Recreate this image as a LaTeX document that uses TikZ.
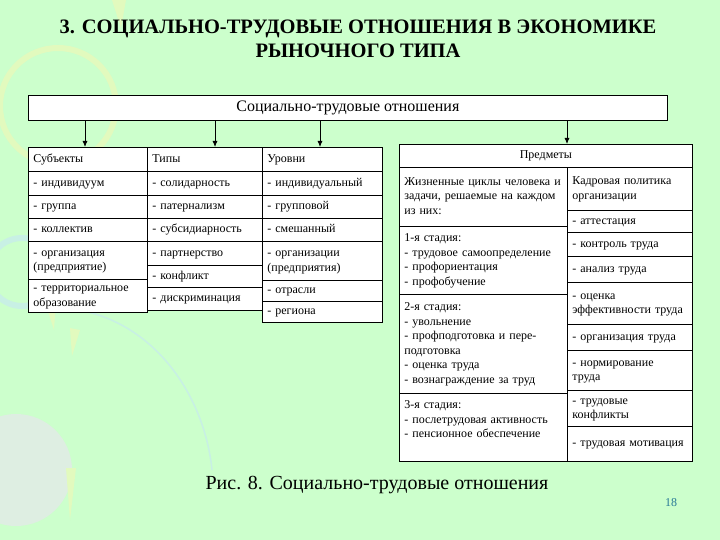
\documentclass[tikz,border=0pt]{standalone}
\usepackage{fontspec}
\setmainfont{Liberation Serif}
\usetikzlibrary{arrows.meta}
\definecolor{slidebg}{RGB}{204,255,204}
\definecolor{pagenum}{RGB}{40,120,150}
\definecolor{decoyellow}{RGB}{226,250,190}
\definecolor{decoblue}{RGB}{200,240,228}
\definecolor{decolilac}{RGB}{222,238,226}
\begin{document}
\begin{tikzpicture}[x=1pt, y=-1pt,
  every node/.style={font=\fontsize{12}{14.5}\selectfont},
  cell/.style={draw, fill=white, line width=0.8pt, anchor=north west,
    inner xsep=5pt, inner ysep=0pt, align=left,
    execute at begin node=\strut, execute at end node=\strut},
  headcell/.style={cell, align=center},
  arr/.style={-{Latex[length=6pt,width=5pt]}, line width=0.8pt}]

  \fill[slidebg] (0,0) rectangle (720,540);
  \useasboundingbox (0,0) rectangle (720,540);

  \draw[decoyellow, line width=6pt] (58,106) circle (58);
  \draw[decoblue, line width=6pt] (22,272) circle (34);
  \fill[decolilac] (16,470) circle (56);
  \draw[decoblue, line width=1.5pt] (88,312) .. controls (160,330) and (205,400) .. (212,470);
  \fill[decoyellow] (112,0) -- (126,0) -- (121,28) -- cycle;
  \fill[decoyellow] (44,300) -- (56,300) -- (54,330) -- cycle;
  \fill[decoyellow] (70,328) -- (80,330) -- (72,356) -- cycle;
  \fill[decoyellow] (66,468) -- (76,468) -- (70,520) -- cycle;

  \node[font=\bfseries\fontsize{20.5}{23.5}\selectfont, align=center] (title)
    at (358,39) {3. СОЦИАЛЬНО-ТРУДОВЫЕ ОТНОШЕНИЯ В ЭКОНОМИКЕ\\РЫНОЧНОГО ТИПА};

  \node[headcell, minimum width=639pt, minimum height=25pt,
    font=\fontsize{16}{19}\selectfont] (str) at (28,95) {Социально-трудовые отношения};

  \def\xa{28}\def\xb{147}
  \foreach \name/\ya/\yb/\txt in {
    subj/147/171/{Субъекты},
    subj1/171/195/{- индивидуум},
    subj2/195/218/{- группа},
    subj3/218/241/{- коллектив},
    subj4/241/279/{- организация\\(предприятие)},
    subj5/279/312/{- территориальное\\образование}
  }{
    \pgfmathsetmacro\w{\xb-\xa}\pgfmathsetmacro\tw{\xb-\xa-10}
    \node[cell, minimum width=\w pt, minimum height=\yb-\ya, text width=\tw pt]
      (\name) at (\xa,\ya) {\txt};
  }

  \def\xa{147}\def\xb{262}
  \foreach \name/\ya/\yb/\txt in {
    type/147/171/{Типы},
    type1/171/195/{- солидарность},
    type2/195/218/{- патернализм},
    type3/218/241/{- субсидиарность},
    type4/241/265/{- партнерство},
    type5/265/287/{- конфликт},
    type6/287/310/{- дискриминация}
  }{
    \pgfmathsetmacro\w{\xb-\xa}\pgfmathsetmacro\tw{\xb-\xa-10}
    \node[cell, minimum width=\w pt, minimum height=\yb-\ya, text width=\tw pt]
      (\name) at (\xa,\ya) {\txt};
  }

  \def\xa{262}\def\xb{382}
  \foreach \name/\ya/\yb/\txt in {
    lev/147/171/{Уровни},
    lev1/171/195/{- индивидуальный},
    lev2/195/218/{- групповой},
    lev3/218/241/{- смешанный},
    lev4/241/280/{- организации\\(предприятия)},
    lev5/280/301/{- отрасли},
    lev6/301/322/{- региона}
  }{
    \pgfmathsetmacro\w{\xb-\xa}\pgfmathsetmacro\tw{\xb-\xa-10}
    \node[cell, minimum width=\w pt, minimum height=\yb-\ya, text width=\tw pt]
      (\name) at (\xa,\ya) {\txt};
  }

  \node[headcell, minimum width=293pt, minimum height=23pt] (subm) at (399,144) {Предметы};

  \def\xa{399}\def\xb{567}
  \foreach \name/\ya/\yb/\txt in {
    cyc/167/226/{Жизненные циклы человека и\\задачи, решаемые на каждом\\из них:},
    cyc1/226/294/{1-я стадия:\\- трудовое самоопределение\\- профориентация\\- профобучение},
    cyc2/294/393/{2-я стадия:\\- увольнение\\- профподготовка и пере-\\подготовка\\- оценка труда\\- вознаграждение за труд},
    cyc3/393/461/{3-я стадия:\\- послетрудовая активность\\- пенсионное обеспечение\\~}
  }{
    \pgfmathsetmacro\w{\xb-\xa}\pgfmathsetmacro\tw{\xb-\xa-10}
    \node[cell, minimum width=\w pt, minimum height=\yb-\ya, text width=\tw pt]
      (\name) at (\xa,\ya) {\txt};
  }

  \def\xa{567}\def\xb{692}
  \foreach \name/\ya/\yb/\txt in {
    pol/167/210/{Кадровая политика\\организации},
    pol1/210/232/{- аттестация},
    pol2/232/256/{- контроль труда},
    pol3/256/282/{- анализ труда},
    pol4/282/324/{- оценка\\эффективности труда},
    pol5/324/350/{- организация труда},
    pol6/350/390/{- нормирование\\труда},
    pol7/390/426/{- трудовые\\конфликты},
    pol8/426/461/{- трудовая мотивация}
  }{
    \pgfmathsetmacro\w{\xb-\xa}\pgfmathsetmacro\tw{\xb-\xa-10}
    \node[cell, minimum width=\w pt, minimum height=\yb-\ya, text width=\tw pt]
      (\name) at (\xa,\ya) {\txt};
  }

  \foreach \c/\x/\target in {a1/85/subj, a2/215/type, a3/320/lev, a4/567/subm}{
    \coordinate (\c) at (\x,0);
    \draw[arr] (str.south -| \c) -- (\target.north -| \c);
  }

  \node[font=\fontsize{20}{23}\selectfont] (cap) at (377,485) {Рис. 8. Социально-трудовые отношения};
  \node[text=pagenum, font=\fontsize{12}{14}\selectfont] (page) at (671,503) {18};
\end{tikzpicture}
\end{document}
